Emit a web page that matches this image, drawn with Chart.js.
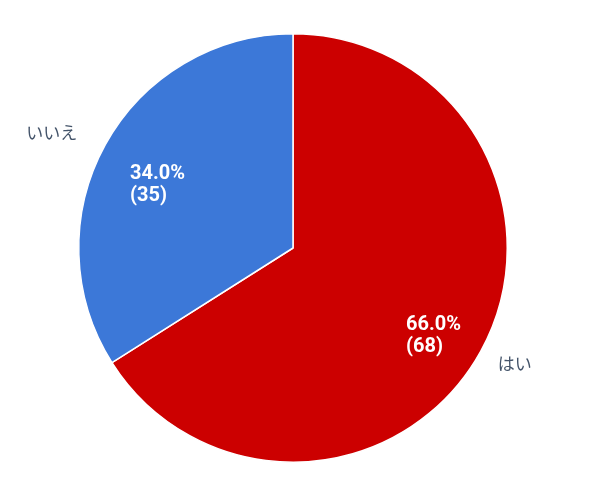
<!DOCTYPE html>
<html><head><meta charset="utf-8">
<script src="https://cdn.jsdelivr.net/npm/chart.js@4"></script>
<style>html,body{margin:0;padding:0;background:#fff}#wrap{width:600px;height:499px}</style>
</head><body><div id="wrap"><canvas id="c" width="600" height="499"></canvas></div>
<script>
const categories = ['はい', 'いいえ'];
const counts = [68, 35];
const percentLabels = ['66.0%', '34.0%'];
const colors = ['#cc0000', '#3c78d8'];

const labelPlugin = {
  id: 'pieLabels',
  afterDatasetsDraw(chart) {
    const ctx = chart.ctx;
    const meta = chart.getDatasetMeta(0);
    meta.data.forEach((arc, i) => {
      const p = arc.getProps(['x','y','startAngle','endAngle','outerRadius'], true);
      const mid = (p.startAngle + p.endAngle) / 2;
      const cx = Math.cos(mid), cy = Math.sin(mid);
      const R = p.outerRadius;
      // inner
      const ix = p.x + cx * R * 0.735 + 2.5, iy = p.y + cy * R * 0.735 + 12.5;
      ctx.save();
      ctx.fillStyle = '#ffffff';
      ctx.font = 'bold 20px Roboto, "Liberation Sans", sans-serif';
      ctx.textBaseline = 'middle';
      ctx.textAlign = 'left';
      const w = Math.max(ctx.measureText(percentLabels[i]).width, ctx.measureText('(' + counts[i] + ')').width);
      ctx.fillText(percentLabels[i], ix - w / 2, iy - 11);
      ctx.fillText('(' + counts[i] + ')', ix - w / 2, iy + 11);
      // outer
      ctx.font = '17px "Noto Sans CJK JP", sans-serif';
      ctx.fillStyle = '#44546a';
      const ox = p.x + cx * R * 1.12 - 5.5, oy = p.y + cy * R * 1.12;
      ctx.textAlign = cx < 0 ? 'right' : 'left';
      ctx.fillText(categories[i], ox, oy);
      ctx.restore();
    });
  }
};

new Chart(document.getElementById('c'), {
  type: 'pie',
  data: {
    labels: categories,
    datasets: [{ data: counts, backgroundColor: colors, borderColor: '#ffffff', borderWidth: 1.5 }]
  },
  options: {
    responsive: false,
    animation: false,
    layout: { padding: { left: 78, right: 92, top: 33, bottom: 36 } },
    plugins: { legend: { display: false }, tooltip: { enabled: false } }
  },
  plugins: [labelPlugin]
});
</script>
</body></html>
